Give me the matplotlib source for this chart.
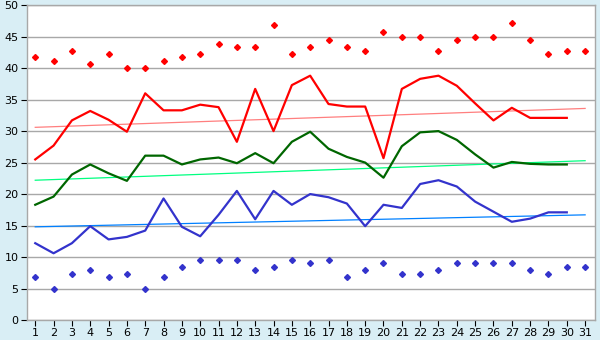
import matplotlib
matplotlib.use("Agg")
import matplotlib.pyplot as plt
import numpy as np

# 每日数据 (1..31)
days = list(range(1, 32))
line_days = list(range(1, 31))

red_points = [41.7, 41.1, 42.8, 40.6, 42.2, 40.0, 40.0, 41.1, 41.7, 42.2,
              43.9, 43.3, 43.3, 46.8, 42.2, 43.3, 44.4, 43.3, 42.8, 45.7,
              45.0, 45.0, 42.8, 44.4, 45.0, 45.0, 47.2, 44.4, 42.2, 42.8, 42.8]
red_line = [25.5, 27.7, 31.7, 33.2, 31.8, 29.9, 36.0, 33.3, 33.3, 34.2,
            33.8, 28.3, 36.7, 30.0, 37.3, 38.8, 34.3, 33.9, 33.9, 25.7,
            36.7, 38.3, 38.8, 37.2, 34.4, 31.7, 33.7, 32.1, 32.1, 32.1]
green_line = [18.3, 19.6, 23.1, 24.7, 23.3, 22.1, 26.1, 26.1, 24.7, 25.5,
              25.8, 24.9, 26.5, 24.9, 28.3, 29.9, 27.2, 25.9, 25.0, 22.6,
              27.6, 29.8, 30.0, 28.6, 26.3, 24.2, 25.1, 24.8, 24.7, 24.7]
blue_line = [12.2, 10.6, 12.2, 14.9, 12.8, 13.2, 14.2, 19.3, 14.8, 13.3,
             16.7, 20.5, 16.0, 20.5, 18.3, 20.0, 19.5, 18.5, 14.9, 18.3,
             17.8, 21.6, 22.2, 21.2, 18.8, 17.2, 15.6, 16.1, 17.1, 17.1]
blue_points = [6.8, 5.0, 7.3, 7.9, 6.8, 7.3, 5.0, 6.8, 8.4, 9.5,
               9.5, 9.5, 7.9, 8.4, 9.5, 9.0, 9.5, 6.8, 7.9, 9.0,
               7.3, 7.3, 7.9, 9.0, 9.0, 9.0, 9.0, 7.9, 7.3, 8.4, 8.4]

# 趋势线端点 (第1天, 第31天)
trend_days = [1, 31]
red_trend = [30.6, 33.6]
green_trend = [22.2, 25.3]
blue_trend = [14.8, 16.7]

fig = plt.figure(figsize=(6, 3.4), dpi=100, facecolor="#D9EEF5")
ax = fig.add_axes([0.045, 0.0588, 0.947, 0.926])
ax.set_facecolor("white")

# 网格线
ax.yaxis.grid(True, color="#A8A8A8", linewidth=1)
ax.set_axisbelow(True)

ax.plot(trend_days, red_trend, color="#FF7F7F", linewidth=0.9)
ax.plot(trend_days, green_trend, color="#00FF80", linewidth=0.9)
ax.plot(trend_days, blue_trend, color="#0080FF", linewidth=0.9)

ax.plot(line_days, red_line, color="#FF0000", linewidth=1.6)
ax.plot(line_days, green_line, color="#006600", linewidth=1.6)
ax.plot(line_days, blue_line, color="#3333CC", linewidth=1.6)

ax.plot(days, red_points, linestyle="none", marker="D", markersize=3.0,
        color="#FF0000")
ax.plot(days, blue_points, linestyle="none", marker="D", markersize=3.0,
        color="#3333CC")

ax.set_xlim(0.55, 31.55)
ax.set_ylim(0, 50)
ax.set_xticks(days)
ax.set_yticks(np.arange(0, 51, 5))
ax.tick_params(axis="both", labelsize=8, color="black", length=4,
               direction="out", pad=2)

for side in ["left", "bottom", "right", "top"]:
    ax.spines[side].set_color("#A8A8A8")
    ax.spines[side].set_linewidth(1)

fig.savefig("out.png", dpi=100, facecolor=fig.get_facecolor())
